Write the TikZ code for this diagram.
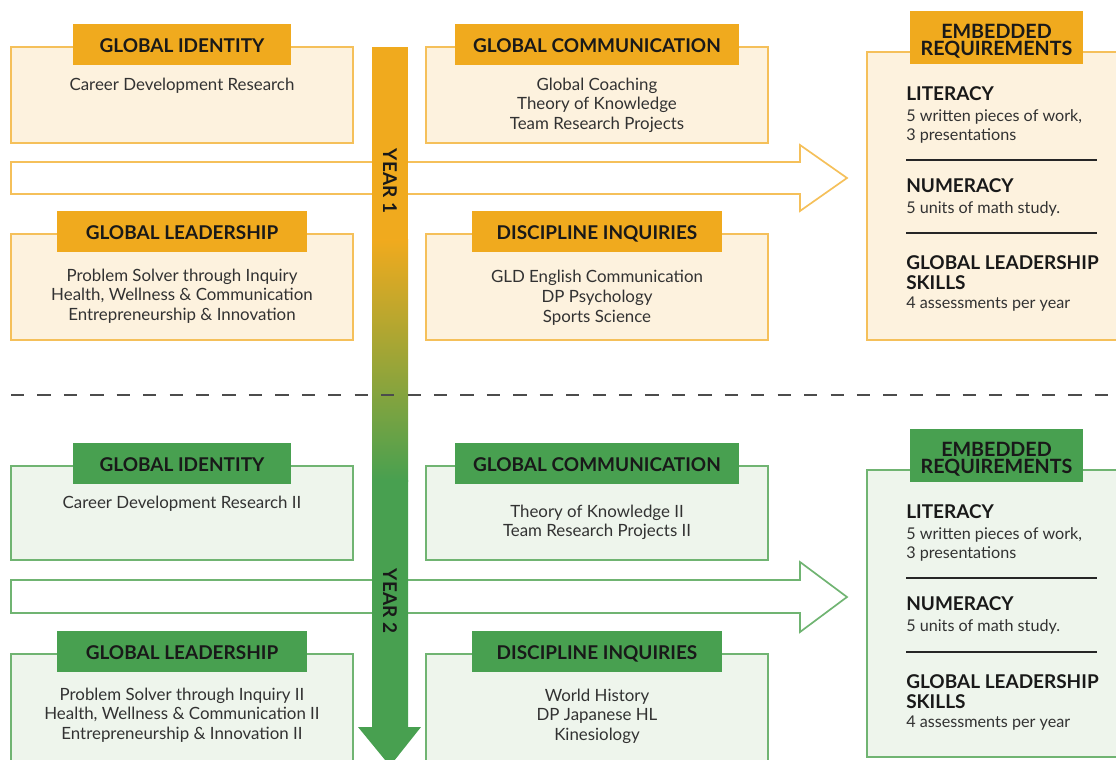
\documentclass[tikz,border=0pt]{standalone}
\usepackage{fontspec}
\setmainfont{Lato}
\usetikzlibrary{positioning}

\definecolor{yrorange}{RGB}{240,170,30}
\definecolor{yrorangeline}{RGB}{245,192,90}
\definecolor{yrorangefill}{RGB}{253,242,222}
\definecolor{yrgreen}{RGB}{72,160,80}
\definecolor{yrgreenline}{RGB}{112,180,114}
\definecolor{yrgreenfill}{RGB}{238,245,236}
\definecolor{bodytext}{RGB}{50,50,50}

\newcommand{\reqtitlefont}{\fontsize{13.5}{15}\selectfont\bfseries\color{black!90}}

\begin{document}
\begin{tikzpicture}[x=0.025cm, y=-0.025cm,
    box1/.style={draw=yrorangeline, fill=yrorangefill, line width=0.9pt, inner sep=0pt},
    box2/.style={draw=yrgreenline, fill=yrgreenfill, line width=0.9pt, inner sep=0pt},
    hdr/.style={anchor=south, yshift=-0.475cm, minimum height=1.025cm, inner sep=0pt,
      text height=11.5pt, text depth=0pt,
      font=\fontsize{13.5}{15}\selectfont\bfseries, text=black!90},
    hdr1/.style={hdr, fill=yrorange},
    hdr2/.style={hdr, fill=yrgreen},
    reqhdr/.style={hdr, yshift=0.14cm, minimum width=4.325cm, minimum height=1.325cm,
      text height={}, text depth={},
      align=center, font=\fontsize{14}{12.5}\selectfont\bfseries},
    body/.style={align=center, inner sep=0pt, font=\fontsize{12}{14}\selectfont, text=bodytext},
    req/.style={anchor=north west, align=left, inner sep=0pt,
      font=\fontsize{11.5}{13.5}\selectfont, text=bodytext},
    reqrule/.style={line width=1.2pt, black!85},
    flow1/.style={draw=yrorangeline, fill=white, line width=1.2pt},
    flow2/.style={draw=yrgreenline, fill=white, line width=1.2pt},
    yearlbl/.style={rotate=-90, inner sep=0pt, font=\fontsize{13.5}{15}\selectfont\bfseries, text=black!90},
    divider/.style={dash pattern=on 9.4pt off 9.4pt, line width=1pt, black!70}
  ]
  \useasboundingbox (0,0) rectangle (1116,760);
  \clip (0,0) rectangle (1116,760);

  % horizontal flow arrows
  \draw[flow1] (11,162) -- (800,162) -- (800,145) -- (847,178) -- (800,211) -- (800,194) -- (11,194) -- cycle;
  \draw[flow2] (11,580) -- (800,580) -- (800,562) -- (847,597) -- (800,632) -- (800,613) -- (11,613) -- cycle;

  % year 1
  \node[box1, minimum width=8.55cm, minimum height=2.4cm] (gi1) at (182,95) {};
  \node[hdr1, minimum width=5.45cm] (gi1hdr) at (gi1.north) {GLOBAL IDENTITY};
  \node[body, below=0.30cm of gi1hdr] (gi1txt) {Career Development Research};

  \node[box1, minimum width=8.55cm, minimum height=2.4cm] (gc1) at (597,95) {};
  \node[hdr1, minimum width=7.075cm] (gc1hdr) at (gc1.north) {GLOBAL COMMUNICATION};
  \node[body, below=0.30cm of gc1hdr] (gc1txt) {Global Coaching\\Theory of Knowledge\\Team Research Projects};

  \node[box1, minimum width=8.55cm, minimum height=2.65cm] (gl1) at (182,287) {};
  \node[hdr1, minimum width=6.25cm] (gl1hdr) at (gl1.north) {GLOBAL LEADERSHIP};
  \node[body, below=0.40cm of gl1hdr] (gl1txt) {Problem Solver through Inquiry\\Health, Wellness \& Communication\\Entrepreneurship \& Innovation};

  \node[box1, minimum width=8.55cm, minimum height=2.65cm] (di1) at (597,287) {};
  \node[hdr1, minimum width=6.25cm] (di1hdr) at (di1.north) {DISCIPLINE INQUIRIES};
  \node[body, below=0.44cm of di1hdr] (di1txt) {GLD English Communication\\DP Psychology\\Sports Science};

  \node[box1, minimum width=6.475cm, minimum height=7.2cm] (er1) at (996.5,196) {};
  \node[reqhdr, fill=yrorange] (er1hdr) at (er1.north) {\rule{0pt}{15pt}EMBEDDED\\REQUIREMENTS};
  \node[req] (lit1) at (906,86) {{\reqtitlefont LITERACY}\\[2pt]5 written pieces of work,\\3 presentations};
  \node[req] (num1) at (906,178) {{\reqtitlefont NUMERACY}\\[2pt]5 units of math study.};
  \node[req] (gls1) at (906,255) {{\reqtitlefont GLOBAL LEADERSHIP}\\[1pt]{\reqtitlefont SKILLS}\\[0pt]4 assessments per year};
  \draw[reqrule] (906,160) -- (1097,160);
  \draw[reqrule] (906,233) -- (1097,233);

  % year 2
  \node[box2, minimum width=8.55cm, minimum height=2.35cm] (gi2) at (182,513) {};
  \node[hdr2, minimum width=5.45cm] (gi2hdr) at (gi2.north) {GLOBAL IDENTITY};
  \node[body, below=0.28cm of gi2hdr] (gi2txt) {Career Development Research II};

  \node[box2, minimum width=8.55cm, minimum height=2.35cm] (gc2) at (597,513) {};
  \node[hdr2, minimum width=7.075cm] (gc2hdr) at (gc2.north) {GLOBAL COMMUNICATION};
  \node[body, below=0.50cm of gc2hdr] (gc2txt) {Theory of Knowledge II\\Team Research Projects II};

  \node[box2, minimum width=8.55cm, minimum height=2.9cm] (gl2) at (182,712) {};
  \node[hdr2, minimum width=6.25cm] (gl2hdr) at (gl2.north) {GLOBAL LEADERSHIP};
  \node[body, below=0.38cm of gl2hdr] (gl2txt) {Problem Solver through Inquiry II\\Health, Wellness \& Communication II\\Entrepreneurship \& Innovation II};

  \node[box2, minimum width=8.55cm, minimum height=2.9cm] (di2) at (597,712) {};
  \node[hdr2, minimum width=6.25cm] (di2hdr) at (di2.north) {DISCIPLINE INQUIRIES};
  \node[body, below=0.40cm of di2hdr] (di2txt) {World History\\DP Japanese HL\\Kinesiology};

  \node[box2, minimum width=6.475cm, minimum height=7.175cm] (er2) at (996.5,613.5) {};
  \node[reqhdr, fill=yrgreen] (er2hdr) at (er2.north) {\rule{0pt}{15pt}EMBEDDED\\REQUIREMENTS};
  \node[req] (lit2) at (906,504) {{\reqtitlefont LITERACY}\\[2pt]5 written pieces of work,\\3 presentations};
  \node[req] (num2) at (906,596) {{\reqtitlefont NUMERACY}\\[2pt]5 units of math study.};
  \node[req] (gls2) at (906,674) {{\reqtitlefont GLOBAL LEADERSHIP}\\[1pt]{\reqtitlefont SKILLS}\\[0pt]4 assessments per year};
  \draw[reqrule] (906,578) -- (1097,578);
  \draw[reqrule] (906,652) -- (1097,652);

  % timeline bar, orange fading into green
  \fill[yrorange] (372,47) rectangle (408,241);
  \shade[top color=yrorange, bottom color=yrgreen] (372,240) rectangle (408,481);
  \fill[yrgreen] (372,480) -- (408,480) -- (408,727) -- (421,727) -- (390,766)
    -- (358,727) -- (372,727) -- cycle;
  \node[yearlbl] (yr1) at (390,181) {YEAR 1};
  \node[yearlbl] (yr2) at (390,601) {YEAR 2};

  \draw[divider] (11,395) -- (1116,395);
\end{tikzpicture}
\end{document}
